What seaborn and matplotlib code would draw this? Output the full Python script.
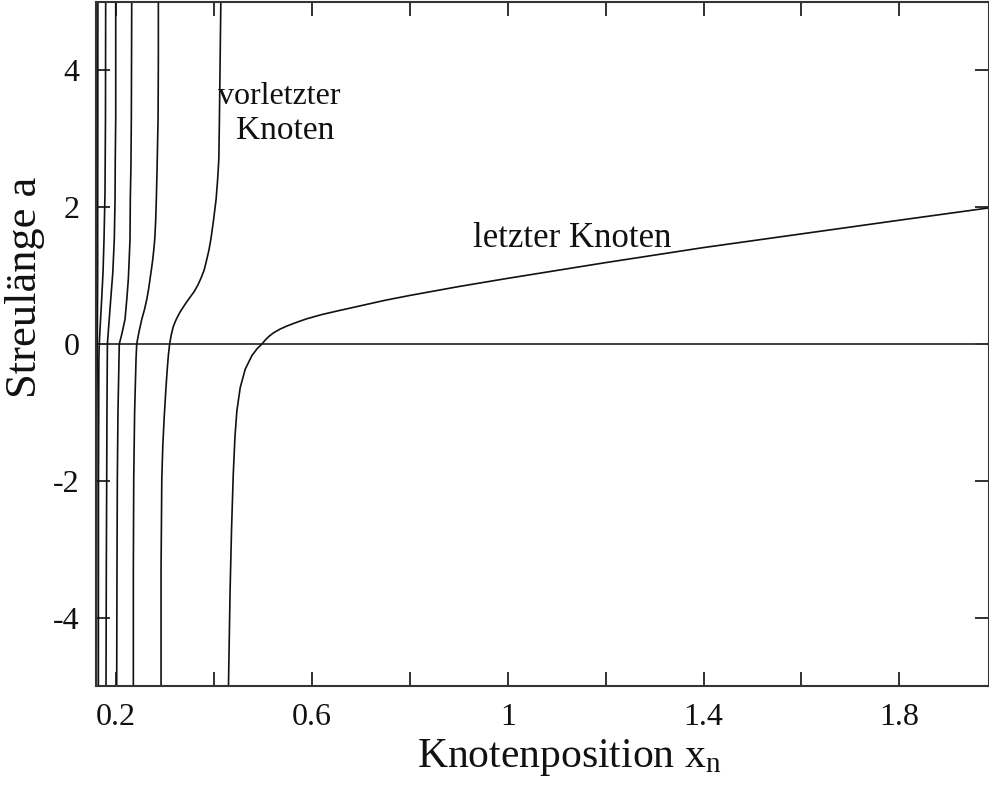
import numpy as np
import pandas as pd
import matplotlib
matplotlib.use("Agg")
import matplotlib.pyplot as plt
import seaborn as sns
from matplotlib.ticker import FixedLocator

# ---- data (x = node position, a = scattering length) ----
x_c1 = [0.4297, 0.4330, 0.4360, 0.4395, 0.4430, 0.4468, 0.4536, 0.4638, 0.4775, 0.4880,
        0.498, 0.505, 0.512, 0.522, 0.535, 0.549, 0.57, 0.59, 0.62, 0.65, 0.70, 0.75,
        0.80, 0.90, 1.00, 1.20, 1.40, 1.60, 1.80, 1.983]
a_c1 = [-5.0, -3.60, -2.70, -1.90, -1.35, -0.98, -0.64, -0.37, -0.17, -0.07,
        0.0, 0.06, 0.11, 0.165, 0.218, 0.263, 0.32, 0.37, 0.43, 0.48, 0.56, 0.64,
        0.71, 0.84, 0.96, 1.19, 1.41, 1.61, 1.81, 1.99]

x_c2 = [0.2920, 0.2920, 0.2935, 0.2955, 0.2982, 0.3015, 0.3045, 0.3070, 0.3095, 0.3130,
        0.3172, 0.3230, 0.3310, 0.3410, 0.3513, 0.3600, 0.3677, 0.3740, 0.3800, 0.3855,
        0.3900, 0.3937, 0.3990, 0.4045, 0.4075, 0.4100, 0.4112, 0.4127, 0.4141]
a_c2 = [-5.0, -3.30, -1.98, -1.50, -1.10, -0.70, -0.38, -0.16, 0.0, 0.14,
        0.26, 0.36, 0.47, 0.58, 0.685, 0.77, 0.87, 0.97, 1.08, 1.24,
        1.38, 1.53, 1.80, 2.12, 2.40, 2.70, 3.29, 4.17, 5.0]

x_c3 = [0.2354, 0.2354, 0.2362, 0.2380, 0.2409, 0.2423, 0.2470, 0.2526, 0.2580, 0.2628,
        0.2665, 0.2695, 0.2725, 0.2751, 0.2772, 0.2791, 0.2810, 0.2824, 0.2840, 0.2859,
        0.2865, 0.2865]
a_c3 = [-5.0, -3.30, -1.98, -1.00, -0.22, 0.0, 0.18, 0.36, 0.50, 0.65,
        0.80, 0.95, 1.10, 1.24, 1.38, 1.53, 1.80, 2.12, 2.60, 3.29,
        4.17, 5.0]

x_c4 = [0.2014, 0.2020, 0.2027, 0.2040, 0.2061, 0.2067, 0.2120, 0.2184, 0.2220, 0.2252,
        0.2270, 0.2286, 0.2292, 0.2305, 0.2313, 0.2321]
a_c4 = [-5.0, -3.30, -1.98, -1.00, -0.22, 0.0, 0.15, 0.36, 0.65, 0.95,
        1.25, 1.53, 2.12, 2.60, 3.29, 5.0]

x_c5 = [0.1796, 0.1802, 0.1810, 0.1815, 0.1822, 0.1824, 0.1855, 0.1892, 0.1935, 0.1965,
        0.1980, 0.1985, 0.1994, 0.1994]
a_c5 = [-5.0, -3.30, -1.98, -1.00, -0.22, 0.0, 0.30, 0.65, 1.05, 1.53,
        2.10, 2.70, 3.29, 5.0]

x_c6 = [0.1640, 0.1642, 0.1650, 0.1658, 0.1680, 0.1707, 0.1735, 0.1755, 0.1775, 0.1785, 0.1789]
a_c6 = [-5.0, -2.0, -0.22, 0.0, 0.30, 0.65, 1.05, 1.53, 2.20, 3.29, 5.0]

x_c7 = [0.1600, 0.1610, 0.1618, 0.1625, 0.1630]
a_c7 = [-5.0, -1.0, 0.0, 1.0, 5.0]

x_ticks = [0.2, 0.4, 0.6, 0.8, 1.0, 1.2, 1.4, 1.6, 1.8]
x_ticklabels = ["0.2", "", "0.6", "", "1", "", "1.4", "", "1.8"]
y_ticks = [-4, -2, 0, 2, 4]
y_ticklabels = ["-4", "-2", "0", "2", "4"]

# ---- build table ----
curves = [(x_c1, a_c1), (x_c2, a_c2), (x_c3, a_c3), (x_c4, a_c4),
          (x_c5, a_c5), (x_c6, a_c6), (x_c7, a_c7)]
frames = []
for i, (xs, ys) in enumerate(curves):
    frames.append(pd.DataFrame({"x": xs, "a": ys, "curve": f"c{i+1}"}))
df = pd.concat(frames, ignore_index=True)

sns.set_theme(style="white")
plt.rcParams["font.family"] = ["Liberation Serif", "DejaVu Serif"]
plt.rcParams["mathtext.fontset"] = "custom"
plt.rcParams["mathtext.rm"] = "Liberation Serif"
plt.rcParams["mathtext.it"] = "Liberation Serif:italic"

fig = plt.figure(figsize=(9.89, 7.85), dpi=100)
ax = fig.add_axes([0.097, 0.126, 0.903, 0.8715])

ax.axhline(0, color="#333333", lw=1.3, zorder=1)
sns.lineplot(data=df, x="x", y="a", hue="curve", units="curve", estimator=None, sort=False,
             palette=["#111111"] * len(curves), legend=False, lw=1.2, ax=ax)

ax.set_xlim(0.159, 1.983)
ax.set_ylim(-5, 5)

ax.xaxis.set_major_locator(FixedLocator(x_ticks))
ax.set_xticklabels(x_ticklabels)
ax.yaxis.set_major_locator(FixedLocator(y_ticks))
ax.set_yticklabels(y_ticklabels)

ax.tick_params(axis="both", which="major", direction="in", length=10, width=1.3,
               color="#222222", top=True, right=True, bottom=True, left=True,
               labelsize=23, labelcolor="#111111")
ax.tick_params(axis="x", pad=12)
ax.tick_params(axis="y", pad=12)
for s in ax.spines.values():
    s.set_color("#333333")
    s.set_linewidth(1.5)
    s.set_visible(True)

ax.set_xlabel("Knotenposition x$_{\\rm n}$", fontsize=30, color="#111111")
ax.set_ylabel("Streulänge a", fontsize=32, color="#111111")
ax.xaxis.set_label_coords(0.53, -0.075)
ax.yaxis.set_label_coords(-0.057, 0.583)

ax.text(0.4086, 3.51, "vorletzter", fontsize=23, color="#111111")
ax.text(0.4454, 2.99, "Knoten", fontsize=24, color="#111111")
ax.text(0.930, 1.415, "letzter Knoten", fontsize=25, color="#111111")

fig.savefig("out.png", dpi=100)
